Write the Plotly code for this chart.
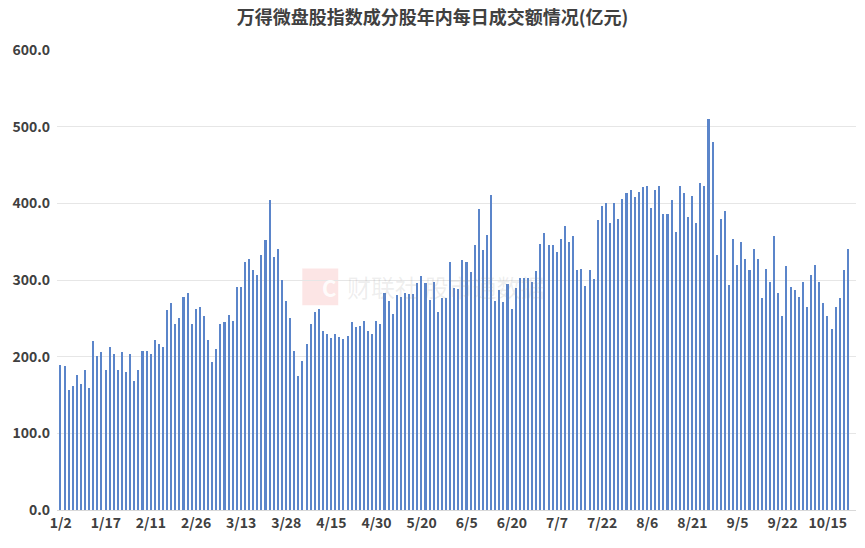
import plotly.graph_objects as go

title_text = "万得微盘股指数成分股年内每日成交额情况(亿元)"

# daily turnover values (亿元), one per trading day, in order
turnover = [
    189, 188, 157, 162, 176, 164, 183, 159, 220, 201, 206, 183, 213, 203, 183, 206, 180,
    203, 168, 183, 207, 207, 204, 222, 216, 213, 261, 270, 243, 251, 278, 283, 242, 262, 265,
    253, 222, 193, 210, 242, 245, 255, 247, 291, 291, 323, 328, 313, 306, 333, 352, 404, 330,
    340, 300, 272, 250, 207, 175, 194, 217, 242, 258, 262, 234, 229, 224, 229, 226, 223, 227,
    245, 239, 240, 247, 234, 230, 247, 243, 283, 272, 256, 280, 278, 283, 282, 282, 296,
    305, 296, 274, 298, 258, 277, 277, 323, 290, 288, 326, 323, 310, 346, 393, 339, 359, 411,
    273, 287, 271, 295, 262, 290, 302, 302, 302, 297, 312, 347, 361, 346, 346, 337, 354, 370,
    350, 357, 313, 315, 292, 313, 301, 378, 397, 400, 374, 401, 380, 406, 414, 418, 408, 415,
    421, 422, 394, 417, 422, 386, 386, 404, 363, 423, 413, 382, 410, 375, 427, 423, 510,
    480, 333, 380, 390, 294, 354, 319, 349, 327, 313, 340, 328, 276, 315, 297, 357, 283, 253,
    318, 291, 287, 278, 298, 265, 307, 320, 297, 270, 253, 236, 265, 276, 313, 340,
]

tick_labels = ["1/2", "1/17", "2/11", "2/26", "3/13", "3/28", "4/15", "4/30", "5/20",
               "6/5", "6/20", "7/7", "7/22", "8/6", "8/21", "9/5", "9/22", "10/15"]
tick_step = 11

x_idx = list(range(len(turnover)))
tick_pos = [i * tick_step for i in range(len(tick_labels))]

font_family = "Noto Sans CJK SC, Microsoft YaHei, sans-serif"

fig = go.Figure()
fig.add_trace(go.Bar(
    x=x_idx, y=turnover,
    marker=dict(color="#5b85ca", line=dict(width=0)),
    width=0.38,
    hoverinfo="y",
))

fig.update_layout(
    width=865, height=548,
    margin=dict(l=57, r=9, t=50, b=38),
    paper_bgcolor="white", plot_bgcolor="white",
    showlegend=False,
    title=dict(text="<b>" + title_text + "</b>", x=0.5, xanchor="center",
               y=0.967, yanchor="middle",
               font=dict(family=font_family, size=18, color="#404040")),
    font=dict(family=font_family, color="#404040"),
    bargap=0,
)

fig.update_xaxes(
    range=[-0.9, len(turnover) + 0.9],
    tickmode="array", tickvals=tick_pos, ticktext=tick_labels,
    tickfont=dict(family=font_family, size=14, color="#404040", weight="bold"),
    showgrid=False, showline=True, linecolor="#d9d9d9", linewidth=1,
    ticks="", zeroline=False,
)
fig.update_yaxes(
    range=[0, 600], dtick=100, tickformat=".1f",
    tickfont=dict(family=font_family, size=14, color="#404040", weight="bold"),
    showgrid=True, gridcolor="#e6e6e6", gridwidth=1,
    zeroline=False, showline=False, ticks="", ticklabelstandoff=6,
)

# faint watermark
fig.add_shape(type="rect", xref="paper", yref="paper",
              x0=0.307, x1=0.352, y0=0.445, y1=0.525,
              fillcolor="rgba(230,40,40,0.12)", line=dict(width=0), layer="below")
fig.add_annotation(text="C", xref="paper", yref="paper", x=0.3295, y=0.485,
                   showarrow=False, font=dict(size=22, color="rgba(255,255,255,0.9)", family=font_family, weight="bold"))
fig.add_annotation(text="财联社 股市通数据", xref="paper", yref="paper", x=0.36, y=0.485,
                   xanchor="left", showarrow=False,
                   font=dict(size=24, color="rgba(150,150,150,0.16)", family=font_family))

fig.write_html("out.html", config={"displayModeBar": False},
               post_script="document.body.style.margin='0';")
